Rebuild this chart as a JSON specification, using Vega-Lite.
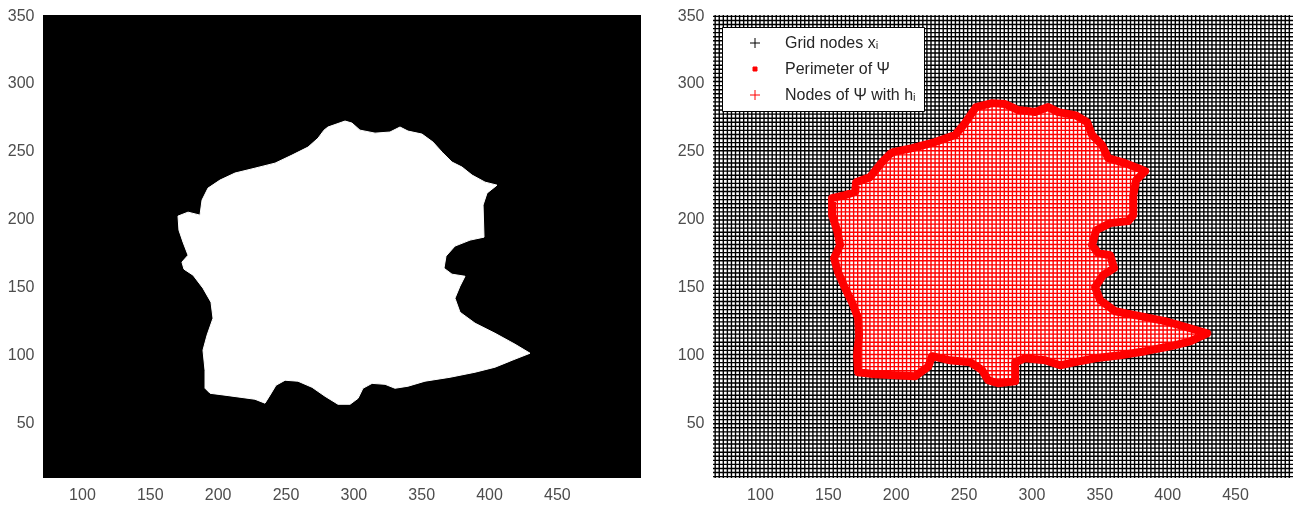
{
  "$schema": "https://vega.github.io/schema/vega-lite/v6.json",
  "background": "white",
  "padding": {"left": 5, "top": 7, "right": 5, "bottom": 0},
  "config": {
    "font": "Liberation Sans",
    "view": {"stroke": null},
    "axis": {"labelFont": "Liberation Sans", "labelFontSize": 16, "labelColor": "#4d4d4d", "ticks": false, "tickSize": 0, "domain": false, "grid": false, "title": null, "labelOverlap": false}
  },
  "resolve": {"legend": {"shape": "independent", "fill": "independent", "stroke": "independent"}},
  "datasets": {
    "left_shape": [
      {"x":281.3,"y":267.5},{"x":293.9,"y":271.9},{"x":299,"y":270.4},{"x":304.9,"y":265.2},{"x":316,"y":263},{"x":327,"y":263.8},{"x":334.4,"y":267.5},{"x":340.3,"y":264.5},{"x":350.6,"y":262.3},{"x":358.7,"y":256.4},{"x":365.4,"y":249},{"x":372.7,"y":241.7},{"x":380.1,"y":238},{"x":387.5,"y":232.1},{"x":397.1,"y":226.9},{"x":405.9,"y":224.7},{"x":398.5,"y":218.8},{"x":395.6,"y":210},{"x":396.3,"y":186.4},{"x":386,"y":184.2},{"x":374.9,"y":179.8},{"x":368.3,"y":172.4},{"x":366.8,"y":163.5},{"x":372.7,"y":159.1},{"x":382.3,"y":157.6},{"x":378.6,"y":150.3},{"x":374.9,"y":141.4},{"x":378.6,"y":131.1},{"x":389.7,"y":123},{"x":404.4,"y":115.6},{"x":419.2,"y":107.5},{"x":430.2,"y":100.9},{"x":417,"y":95.7},{"x":404.4,"y":90.6},{"x":389.7,"y":86.9},{"x":371.3,"y":83.2},{"x":352.8,"y":80.3},{"x":340.3,"y":76.6},{"x":330.7,"y":75.1},{"x":323.4,"y":78},{"x":313.8,"y":78.7},{"x":307.1,"y":75.1},{"x":303.5,"y":67.7},{"x":297.6,"y":63.3},{"x":288.7,"y":63.3},{"x":279.1,"y":69.2},{"x":269.6,"y":75.8},{"x":259.2,"y":80.3},{"x":249.7,"y":81},{"x":243,"y":77.3},{"x":238.6,"y":70},{"x":234.9,"y":64.1},{"x":227.5,"y":67},{"x":216.5,"y":68.5},{"x":205.4,"y":70},{"x":194.4,"y":71.4},{"x":190.7,"y":75.1},{"x":190.7,"y":88.4},{"x":189.2,"y":103.1},{"x":192.2,"y":114.2},{"x":196.6,"y":126.7},{"x":195.1,"y":138.5},{"x":189.2,"y":148.8},{"x":181.9,"y":158.4},{"x":175.2,"y":162.8},{"x":173.7,"y":168},{"x":178.2,"y":173.1},{"x":174.5,"y":182.7},{"x":171.5,"y":191.5},{"x":170.8,"y":201.9},{"x":178.2,"y":204.8},{"x":187,"y":202.6},{"x":188.5,"y":213.7},{"x":192.9,"y":222.5},{"x":201.7,"y":228.4},{"x":212.8,"y":233.6},{"x":227.5,"y":237.2},{"x":242.3,"y":240.9},{"x":254.8,"y":246.8},{"x":266.6,"y":252.7},{"x":274,"y":259.3},{"x":278.4,"y":265.2},{"x":281.3,"y":267.5}
    ],
    "right_shape": [
      {"x":198.1,"y":249},{"x":212.1,"y":252},{"x":229,"y":256.4},{"x":243.8,"y":261.6},{"x":251.1,"y":270.4},{"x":259.2,"y":282.2},{"x":271,"y":285.1},{"x":280.6,"y":284.4},{"x":290.2,"y":280},{"x":302.7,"y":278.5},{"x":312.3,"y":282.2},{"x":319.7,"y":278.5},{"x":332.2,"y":276.3},{"x":341,"y":271.1},{"x":344.7,"y":261.6},{"x":352.1,"y":254.2},{"x":356.5,"y":244.6},{"x":369,"y":240.9},{"x":378.6,"y":237.2},{"x":383.8,"y":235},{"x":377.2,"y":228.4},{"x":375,"y":217.3},{"x":375,"y":202.6},{"x":371.3,"y":198.2},{"x":358,"y":196.7},{"x":347.7,"y":191.5},{"x":344.7,"y":180.5},{"x":349.1,"y":174.6},{"x":358,"y":173.1},{"x":360.9,"y":163.5},{"x":352.8,"y":158.4},{"x":346.9,"y":149.5},{"x":350.6,"y":140},{"x":361.7,"y":131.8},{"x":380.1,"y":128.2},{"x":398.5,"y":124.5},{"x":416.9,"y":119.3},{"x":429.5,"y":115.6},{"x":416.9,"y":109.7},{"x":402.2,"y":106},{"x":383.8,"y":102.4},{"x":365.4,"y":99.4},{"x":346.9,"y":97.2},{"x":332.2,"y":94.3},{"x":321.1,"y":92},{"x":310.1,"y":95.7},{"x":295.3,"y":97.2},{"x":288,"y":94.3},{"x":288,"y":80.3},{"x":275.4,"y":78.8},{"x":268.1,"y":81},{"x":263.7,"y":88.4},{"x":254.8,"y":94.3},{"x":240.1,"y":95.7},{"x":226.8,"y":98.7},{"x":223.9,"y":90.9},{"x":214.3,"y":84},{"x":199.5,"y":84.7},{"x":184.8,"y":85.4},{"x":172.3,"y":86.9},{"x":171.5,"y":99.4},{"x":173,"y":114.2},{"x":172.3,"y":126.7},{"x":167.8,"y":138.5},{"x":162.7,"y":148.8},{"x":157.5,"y":160.6},{"x":154.6,"y":170.9},{"x":159,"y":180.5},{"x":156.8,"y":191.5},{"x":153.1,"y":202.6},{"x":153.1,"y":215.1},{"x":162.7,"y":217.3},{"x":170.1,"y":219.6},{"x":170.8,"y":226.9},{"x":181.1,"y":230.6},{"x":190,"y":241.7},{"x":195.8,"y":247.6},{"x":198.1,"y":249}
    ],
    "grid_x": [67,70,73,76,79,82,85,88,91,94,97,100,103,106,109,112,115,118,121,124,127,130,133,136,139,142,145,148,151,154,157,160,163,166,169,172,175,178,181,184,187,190,193,196,199,202,205,208,211,214,217,220,223,226,229,232,235,238,241,244,247,250,253,256,259,262,265,268,271,274,277,280,283,286,289,292,295,298,301,304,307,310,313,316,319,322,325,328,331,334,337,340,343,346,349,352,355,358,361,364,367,370,373,376,379,382,385,388,391,394,397,400,403,406,409,412,415,418,421,424,427,430,433,436,439,442,445,448,451,454,457,460,463,466,469,472,475,478,481,484,487,490],
    "grid_y": [10,13,16,19,22,25,28,31,34,37,40,43,46,49,52,55,58,61,64,67,70,73,76,79,82,85,88,91,94,97,100,103,106,109,112,115,118,121,124,127,130,133,136,139,142,145,148,151,154,157,160,163,166,169,172,175,178,181,184,187,190,193,196,199,202,205,208,211,214,217,220,223,226,229,232,235,238,241,244,247,250,253,256,259,262,265,268,271,274,277,280,283,286,289,292,295,298,301,304,307,310,313,316,319,322,325,328,331,334,337,340,343,346,349],
    "legend_items": [
      {"series": "Grid nodes xᵢ", "x": 100, "y": 320},
      {"series": "Perimeter of Ψ", "x": 100, "y": 320},
      {"series": "Nodes of Ψ with hᵢ", "x": 100, "y": 320}
    ]
  },
  "spacing": 34,
  "hconcat": [
    {
      "width": 598,
      "height": 463,
      "view": {"fill": "black", "stroke": null},
      "data": {"name": "left_shape"},
      "mark": {"type": "line", "fill": "white", "stroke": "white", "strokeWidth": 1},
      "encoding": {
        "x": {"field": "x", "type": "quantitative", "scale": {"domain": [71.3, 512], "nice": false, "zero": false},
              "axis": {"values": [100,150,200,250,300,350,400,450], "labelPadding": 8}},
        "y": {"field": "y", "type": "quantitative", "scale": {"domain": [9, 350], "nice": false, "zero": false},
              "axis": {"values": [50,100,150,200,250,300,350], "labelPadding": 9, "minExtent": 38, "maxExtent": 38}},
        "order": {"value": null}
      }
    },
    {
      "width": 580,
      "height": 463,
      "view": {"fill": "white", "stroke": null},
      "layer": [
        {
          "data": {"name": "grid_x"},
          "mark": {"type": "rule", "color": "black", "strokeWidth": 1.4},
          "encoding": {
            "x": {"field": "data", "type": "quantitative", "scale": {"domain": [65.4, 492.7], "nice": false, "zero": false},
                  "axis": {"values": [100,150,200,250,300,350,400,450], "labelPadding": 8}}
          }
        },
        {
          "data": {"name": "grid_y"},
          "mark": {"type": "rule", "color": "black", "strokeWidth": 1.4},
          "encoding": {
            "y": {"field": "data", "type": "quantitative", "scale": {"domain": [9, 350], "nice": false, "zero": false},
                  "axis": {"values": [50,100,150,200,250,300,350], "labelPadding": 9, "minExtent": 38, "maxExtent": 38}}
          }
        },
        {
          "data": {"name": "right_shape"},
          "mark": {"type": "line", "fill": "red", "stroke": "red", "strokeWidth": 1, "blend": "lighten"},
          "encoding": {
            "x": {"field": "x", "type": "quantitative", "scale": {"domain": [65.4, 492.7], "nice": false, "zero": false}},
            "y": {"field": "y", "type": "quantitative", "scale": {"domain": [9, 350], "nice": false, "zero": false}},
            "order": {"value": null}
          }
        },
        {
          "data": {"name": "right_shape"},
          "mark": {"type": "line", "stroke": "red", "strokeWidth": 8, "strokeJoin": "round", "strokeCap": "round"},
          "encoding": {
            "x": {"field": "x", "type": "quantitative", "scale": {"domain": [65.4, 492.7], "nice": false, "zero": false}},
            "y": {"field": "y", "type": "quantitative", "scale": {"domain": [9, 350], "nice": false, "zero": false}},
            "order": {"value": null}
          }
        },
        {
          "data": {"name": "legend_items"},
          "mark": {"type": "point", "filled": true, "size": 20, "opacity": 1},
          "encoding": {
            "x": {"field": "x", "type": "quantitative", "scale": {"domain": [65.4, 492.7], "nice": false, "zero": false}},
            "y": {"field": "y", "type": "quantitative", "scale": {"domain": [9, 350], "nice": false, "zero": false}},
            "shape": {"field": "series", "type": "nominal",
              "scale": {"domain": ["Grid nodes xᵢ", "Perimeter of Ψ", "Nodes of Ψ with hᵢ"], "range": ["M-1,0L1,0M0,-1L0,1", "M-0.4,-0.4L0.4,-0.4L0.4,0.4L-0.4,0.4Z", "M-1,0L1,0M0,-1L0,1"]},
              "legend": {"title": null, "orient": "none", "legendX": 9, "legendY": 12, "fillColor": "white", "strokeColor": "black", "padding": 8, "symbolOffset": 17, "labelOffset": 22, "rowPadding": 10, "labelFontSize": 16, "labelFont": "Liberation Sans", "labelColor": "#262626", "symbolSize": 100, "symbolStrokeWidth": 1, "symbolOpacity": 1}},
            "fill": {"field": "series", "type": "nominal",
              "scale": {"domain": ["Grid nodes xᵢ", "Perimeter of Ψ", "Nodes of Ψ with hᵢ"], "range": ["black", "red", "red"]},
              "legend": {"title": null, "orient": "none", "legendX": 9, "legendY": 12, "fillColor": "white", "strokeColor": "black", "padding": 8, "symbolOffset": 17, "labelOffset": 22, "rowPadding": 10, "labelFontSize": 16, "labelFont": "Liberation Sans", "labelColor": "#262626", "symbolSize": 100, "symbolStrokeWidth": 1, "symbolOpacity": 1}},
            "stroke": {"field": "series", "type": "nominal",
              "scale": {"domain": ["Grid nodes xᵢ", "Perimeter of Ψ", "Nodes of Ψ with hᵢ"], "range": ["black", "red", "red"]},
              "legend": {"title": null, "orient": "none", "legendX": 9, "legendY": 12, "fillColor": "white", "strokeColor": "black", "padding": 8, "symbolOffset": 17, "labelOffset": 22, "rowPadding": 10, "labelFontSize": 16, "labelFont": "Liberation Sans", "labelColor": "#262626", "symbolSize": 100, "symbolStrokeWidth": 1, "symbolOpacity": 1}}
          }
        }
      ]
    }
  ]
}
